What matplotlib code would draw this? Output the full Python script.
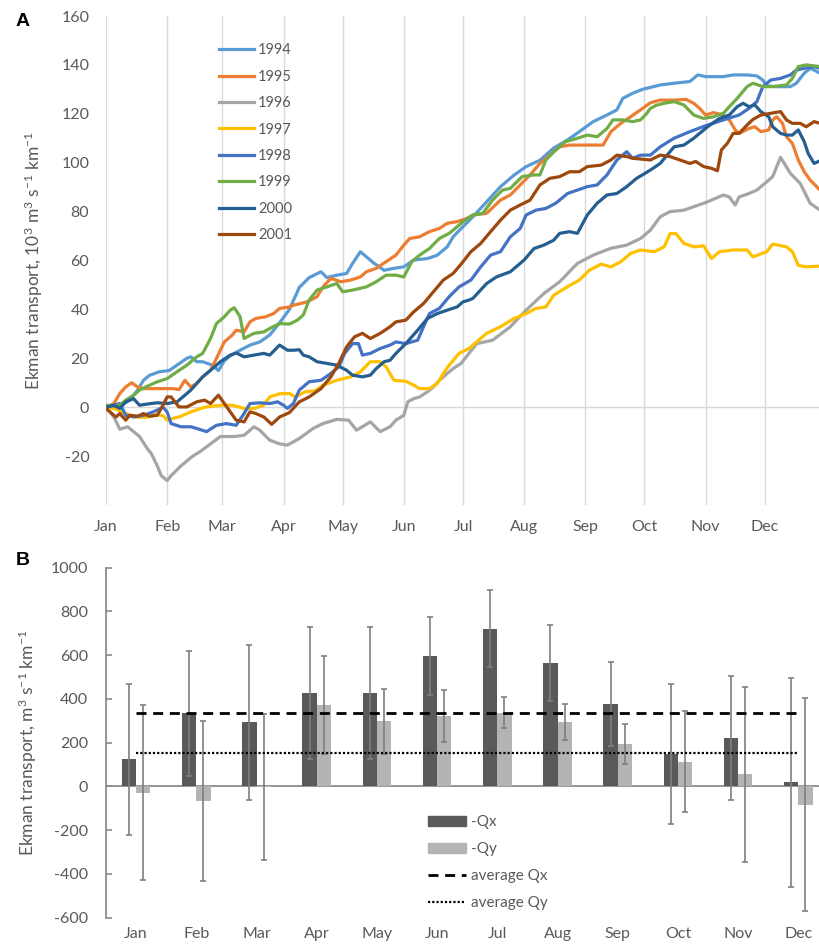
import matplotlib
matplotlib.use('Agg')
import matplotlib.pyplot as plt
from matplotlib.patches import Patch
from matplotlib.lines import Line2D
import numpy as np

plt.rcParams['font.family'] = ['Lato', 'DejaVu Sans']
plt.rcParams['mathtext.fontset'] = 'custom'
plt.rcParams['mathtext.rm'] = 'Lato'
plt.rcParams['mathtext.default'] = 'regular'
plt.rcParams['axes.unicode_minus'] = False

GREY_TXT = '#595959'

# ---- panel A: cumulative Ekman transport (day of year, 10^3 m3 s-1 km-1)
months = ['Jan', 'Feb', 'Mar', 'Apr', 'May', 'Jun', 'Jul', 'Aug', 'Sep', 'Oct', 'Nov', 'Dec']
month_start = [0, 31, 59, 90, 120, 151, 181, 212, 243, 273, 304, 334]

d1994 = [0, 4, 7, 12, 16, 19, 22, 27, 32, 36, 41, 43, 46, 49, 54, 57, 60, 63, 68, 73, 78, 83, 88, 93, 98, 103,
         109, 112, 117, 122, 125, 129, 132, 136, 141, 146, 151, 156, 163, 168, 173, 176, 180, 186, 193, 200, 207,
         213, 220, 227, 234, 240, 247, 254, 259, 262, 267, 272, 276, 281, 288, 296, 300, 304, 313, 318, 325, 330,
         333, 335, 340, 347, 350, 354, 357, 359, 362]
v1994 = [0, 0, 0.4, 2.9, 7, 11, 13, 14.5, 15, 17.2, 20, 20.6, 18.6, 18.6, 17.2, 15, 19, 21, 23.3, 25.4, 26.7, 29.5,
         34.5, 40, 49, 53, 55.4, 53, 54, 54.7, 58.8, 63.6, 61.5, 58.8, 56, 56.8, 57.4, 60.2, 60.8, 62.2, 65.6, 69.7,
         73, 77.9, 84, 90.2, 95, 98.4, 101, 106, 109.3, 112.7, 116.8, 119.5, 121.6, 126.3, 128.4, 130, 130.8, 131.8,
         132.5, 133.2, 135.9, 135.2, 135.2, 135.9, 135.9, 135.5, 133.8, 131.4, 131.1, 131.1, 132.5, 136.6, 138.6,
         137.9, 136.6]

d1995 = [0, 4, 7, 10, 13, 16, 19, 24, 29, 34, 37, 40, 43, 46, 49, 53, 56, 60, 64, 66, 70, 73, 76, 81, 85, 88, 93,
         95, 102, 107, 110, 114, 119, 124, 129, 132, 137, 142, 147, 151, 154, 159, 164, 169, 173, 178, 183, 186, 193,
         200, 205, 210, 215, 220, 225, 230, 235, 242, 247, 252, 256, 261, 266, 271, 276, 281, 288, 294, 298, 301,
         304, 308, 313, 316, 319, 321, 326, 329, 332, 336, 338, 340, 343, 345, 348, 351, 354, 357, 362]
v1995 = [0, 1.5, 5.6, 8.3, 10, 8.3, 7.6, 7.6, 7.6, 7.6, 7.2, 11, 8.3, 9.7, 12.4, 15.1, 20, 26.7, 29.5, 31.5, 30.8,
         34.9, 36.3, 37, 38.3, 40.4, 41, 41.7, 43.1, 45.2, 49.2, 52.7, 51.3, 52, 53.3, 55.4, 56.8, 59.5, 62.2, 66.3,
         69, 69.7, 71.8, 73.1, 75.2, 75.9, 77.2, 78.6, 79.3, 84.7, 86.8, 90.9, 95, 99.7, 103.1, 106.5, 107.2, 107.2,
         107.2, 107.2, 112.7, 116.1, 118.8, 121.6, 124.5, 125.6, 125.6, 125.9, 124.3, 122.2, 119.5, 120.5, 119.5,
         117.5, 113.4, 112, 114, 114.7, 112.7, 113.4, 117.5, 118.8, 116.1, 110.6, 107.9, 101.1, 96.3, 92.9, 88.8]

d1996 = [0, 4, 7, 11, 14, 17, 21, 23, 26, 28, 31, 33, 38, 41, 44, 48, 53, 58, 65, 70, 75, 78, 83, 88, 92, 98, 105,
         110, 117, 123, 127, 130, 134, 139, 144, 147, 151, 153, 156, 159, 163, 166, 169, 173, 176, 180, 184, 188,
         196, 205, 213, 222, 230, 239, 247, 256, 264, 271, 276, 281, 286, 293, 298, 305, 313, 316, 319, 321, 326,
         330, 335, 338, 342, 347, 352, 357, 362]
v1996 = [0, -4, -9, -8, -10, -12, -17, -19, -24, -28, -30, -28, -24, -22, -20, -18, -15, -12, -12, -11.5, -8, -9.4,
         -13.5, -15, -15.5, -12.8, -8.7, -6.7, -5, -5.3, -9.4, -8, -6, -10, -8, -5.3, -3.3, 2.2, 3.5, 4.2, 6.3, 8.3,
         11, 13.8, 15.8, 17.9, 22, 26, 27.4, 32.9, 39.7, 46.5, 51.3, 58.8, 62.2, 65, 66.3, 69, 72.4, 77.9, 80, 80.6,
         82, 84, 86.8, 86, 82.7, 86, 87.4, 88.8, 92.2, 94.3, 102.2, 95.6, 91.5, 83.4, 80.6]

d1997 = [0, 4, 10, 15, 20, 26, 29, 31, 34, 38, 43, 50, 58, 64, 70, 75, 80, 83, 88, 93, 96, 101, 106, 110, 117, 124,
         129, 134, 139, 142, 146, 152, 156, 159, 164, 168, 171, 174, 179, 184, 186, 193, 200, 207, 213, 218, 223,
         227, 234, 240, 245, 251, 256, 261, 266, 271, 278, 283, 286, 289, 293, 298, 303, 307, 311, 318, 325, 328,
         335, 338, 345, 348, 351, 355, 362]
v1997 = [0, -0.5, -2.6, -4, -4.2, -3, -3.5, -5.3, -4.6, -3.7, -1.9, 0, 0.8, 0.8, -0.5, -0.5, 0.8, 4.2, 5.5, 5.6,
         4.2, 6.3, 6.7, 9, 11, 12.4, 14.5, 18.6, 18.6, 16.5, 11, 10.6, 9, 7.6, 7.6, 9.7, 13.8, 17.2, 22, 24, 25.4,
         30.2, 32.9, 36.3, 38.3, 40.4, 41, 45.8, 49.3, 52, 56, 58.5, 57.4, 59.5, 62.9, 64.3, 63.6, 65.6, 71, 71, 67,
         65.6, 66, 60.8, 63.6, 64.3, 64.3, 61.5, 63.6, 66.7, 65.6, 63.6, 58, 57.4, 57.7]

d1998 = [0, 4, 7, 10, 14, 19, 24, 29, 31, 33, 38, 43, 46, 51, 56, 61, 66, 70, 73, 78, 83, 87, 90, 92, 95, 98, 103,
         109, 114, 118, 121, 125, 128, 130, 134, 139, 144, 147, 152, 158, 161, 164, 169, 174, 179, 185, 190, 195,
         200, 205, 210, 213, 218, 223, 228, 234, 239, 244, 249, 254, 259, 264, 267, 271, 276, 281, 288, 296, 305,
         313, 321, 326, 330, 333, 337, 342, 347, 350, 354, 359, 362]
v1998 = [0, 0.8, 1.5, -3.3, -4, -3.3, -1.9, 0, -2, -6.7, -8, -8, -8.7, -10, -7.4, -6.7, -7.4, -2.6, 1.5, 1.8, 1.5,
         2.2, 0.8, -0.5, 1.5, 7, 10.4, 11, 13.8, 16.5, 22, 26, 26, 21.3, 22, 24, 25.4, 26.7, 26, 27.4, 32.9, 38.3,
         40.4, 45.2, 49.2, 52, 57.4, 62.2, 63.6, 69.7, 73.1, 78.6, 80.6, 81.3, 83.4, 87.4, 88.8, 90.2, 90.9, 95,
         101.1, 104.5, 101.8, 103.1, 103.1, 106.5, 110, 112.7, 115.4, 117.5, 119.5, 122.2, 125, 131.1, 133.8, 134.5,
         135.9, 137.9, 138.6, 139.3, 138.6]

d1999 = [0, 4, 7, 10, 14, 17, 21, 26, 31, 36, 41, 46, 49, 53, 56, 60, 63, 65, 68, 70, 75, 80, 83, 88, 93, 97, 100,
         103, 107, 112, 117, 120, 125, 132, 137, 142, 147, 151, 155, 159, 164, 169, 174, 178, 182, 186, 191, 196,
         201, 205, 211, 217, 220, 223, 228, 233, 239, 244, 249, 254, 257, 262, 267, 271, 274, 276, 279, 283, 288,
         293, 298, 303, 308, 313, 316, 320, 325, 328, 333, 338, 345, 348, 351, 355, 362]
v1999 = [0.8, 0.4, 0.8, 2.9, 4.9, 7, 8.6, 10.4, 11.7, 14.5, 17.2, 20.6, 22, 28.1, 34.2, 37, 39.7, 40.7, 37, 28.1,
         30.2, 30.8, 32.2, 34.2, 34, 35.6, 37.7, 43.8, 47.9, 49.2, 50.6, 47.2, 47.9, 49.2, 51.3, 54, 54, 53.3, 59.5,
         62.2, 64.9, 69, 71.1, 73.8, 76.5, 78.6, 79.3, 84.7, 88.8, 89.5, 94.3, 95, 95, 101.1, 105.2, 108.6, 110,
         111.3, 110.6, 114, 117.5, 117.5, 116.8, 117.5, 120, 122.2, 123.5, 124.3, 125, 123.6, 119.5, 118.1, 118.8,
         120.2, 122.9, 126.3, 131.1, 132.5, 131.1, 131.1, 131.8, 134.5, 139.3, 140, 139.3]

d2000 = [0, 4, 7, 10, 14, 17, 21, 26, 31, 36, 39, 43, 46, 49, 53, 58, 63, 66, 70, 75, 80, 83, 88, 92, 95, 98, 100,
         103, 107, 112, 117, 122, 125, 130, 134, 137, 141, 144, 147, 152, 158, 163, 168, 173, 178, 181, 184, 186,
         193, 198, 205, 212, 217, 222, 227, 230, 235, 239, 244, 249, 254, 259, 264, 269, 273, 276, 281, 288, 293,
         298, 305, 311, 316, 320, 323, 326, 329, 332, 336, 338, 342, 345, 348, 351, 354, 356, 359, 362]
v2000 = [0, 0.8, -0.5, 2.2, 3.5, 0.8, 1.3, 1.8, 1.5, 2.2, 4.2, 7, 9.7, 12.4, 15.1, 18.6, 21.3, 22.2, 20.6, 21.3,
         22, 21.3, 25.4, 23.3, 23.3, 23.5, 21.3, 20.6, 18.6, 17.9, 17.2, 15.1, 13.1, 12.4, 13.1, 15.8, 18.6, 19.2,
         22, 26, 31.5, 36.3, 38.3, 39.7, 41, 43.1, 43.8, 44.5, 50.6, 53.3, 55.4, 60.2, 64.9, 66.3, 68.3, 71.1, 71.8,
         71.1, 78.6, 83.4, 86.8, 87.4, 90.2, 93.6, 95.5, 97, 99.7, 106.5, 107.2, 110, 114.7, 118.1, 119.5, 122.9,
         124.3, 122.9, 123.6, 120.9, 118.8, 114.7, 112, 111.3, 111.3, 113.4, 108.6, 103.8, 99.7, 100.8]

d2001 = [0, 2, 5, 7, 10, 12, 16, 19, 22, 26, 28, 31, 33, 37, 41, 46, 50, 53, 57, 60, 63, 66, 70, 73, 76, 80, 84, 88,
         93, 98, 103, 109, 114, 118, 122, 126, 130, 134, 139, 144, 147, 152, 156, 161, 166, 171, 176, 180, 185, 190,
         195, 200, 205, 210, 215, 220, 225, 230, 235, 240, 244, 251, 256, 259, 264, 267, 271, 276, 281, 286, 291,
         296, 299, 303, 307, 310, 312, 315, 318, 321, 325, 328, 332, 337, 342, 345, 348, 352, 355, 359, 362]
v2001 = [-0.5, -1.9, -4, -2.6, -5.3, -3.3, -3.7, -2.6, -3.7, -3.3, -0.5, 4.2, 4.2, 0.1, 0.1, 2.2, 2.9, 1.5, 4.9,
         1.5, -1.9, -5.3, -6, -1.9, -2.6, -4, -7, -4, -2.2, 2.2, 4.2, 7.6, 12.4, 17.9, 24.7, 28.8, 30.2, 28.1, 30.2,
         32.9, 34.9, 35.6, 39, 42.4, 47.2, 52, 54.7, 58.5, 63.6, 67, 71.8, 76.5, 80.6, 82.7, 84.7, 90.9, 93.6, 94.3,
         96.3, 96.3, 98.4, 99, 101.1, 103.1, 102.5, 101.8, 101.5, 101.1, 103.1, 102.5, 101.1, 99.7, 100.5, 98.4,
         97.7, 96.7, 105.2, 107.9, 112, 112, 115.4, 117.7, 119.5, 120.2, 120.9, 117.5, 116.1, 116.1, 114.7, 116.8,
         116.1]

years = ['1994', '1995', '1996', '1997', '1998', '1999', '2000', '2001']
year_days = [d1994, d1995, d1996, d1997, d1998, d1999, d2000, d2001]
year_vals = [v1994, v1995, v1996, v1997, v1998, v1999, v2000, v2001]
year_colors = ['#5B9BD5', '#ED7D31', '#A5A5A5', '#FFC000', '#4472C4', '#70AD47', '#255E91', '#9E480E']

# ---- panel B: monthly means with std error bars (m3 s-1 km-1)
qx = [125, 334, 293, 428, 428, 596, 720, 563, 376, 148, 222, 20]
qx_err = [345, 284, 353, 302, 302, 178, 176, 173, 192, 320, 285, 478]
qy = [-29, -66, -4, 372, 297, 323, 338, 294, 194, 114, 55, -84]
qy_err = [400, 367, 333, 224, 148, 120, 72, 81, 92, 230, 399, 487]
avg_qx = 334
avg_qy = 151

fig = plt.figure(figsize=(8.2, 9.46), dpi=100)

# ================= A
axA = fig.add_axes([106 / 820, 441 / 946, 714 / 820, 489 / 946])
for name, d, v, c in zip(years, year_days, year_vals, year_colors):
    axA.plot(d, v, color=c, lw=2.3, label=name, solid_joinstyle='round')
axA.set_xlim(0, 362)
axA.set_ylim(-40, 160)
axA.set_yticks(range(-20, 161, 20))
axA.set_xticks(month_start)
axA.set_xticklabels(months)
axA.grid(axis='x', color='#d9d9d9', lw=1)
axA.axhline(0, color='#d9d9d9', lw=1, zorder=0)
for s in axA.spines.values():
    s.set_visible(False)
axA.tick_params(axis='both', length=0, labelsize=11.5, colors=GREY_TXT)
axA.tick_params(axis='y', pad=12)
axA.tick_params(axis='x', pad=11)
axA.set_ylabel('Ekman transport, 10$^{3}$ m$^{3}$ s$^{-1}$ km$^{-1}$', fontsize=12.5, color=GREY_TXT, labelpad=12)
legA = axA.legend(loc='upper left', bbox_to_anchor=(0.158, 0.944), frameon=False, fontsize=10.5,
                  handlelength=2.4, handletextpad=0.3, labelspacing=0.85, borderpad=0, borderaxespad=0)
for t in legA.get_texts():
    t.set_color(GREY_TXT)

# ================= B
axB = fig.add_axes([106 / 820, 28.3 / 946, 714 / 820, 350 / 946])
x = np.arange(len(months))
w = 0.238
axB.bar(x - w / 2, qx, w, color='#595959', zorder=2)
axB.bar(x + w / 2, qy, w, color='#b4b4b4', zorder=2)
axB.errorbar(x - w / 2, qx, yerr=qx_err, fmt='none', ecolor='#7f7f7f', elinewidth=1.2, capsize=2, capthick=1.2,
             zorder=3)
axB.errorbar(x + w / 2, qy, yerr=qy_err, fmt='none', ecolor='#7f7f7f', elinewidth=1.2, capsize=2, capthick=1.2,
             zorder=3)
axB.plot([x[0], x[-1]], [avg_qx, avg_qx], color='black', lw=2, dashes=(3.6, 2.4), zorder=4)
axB.plot([x[0], x[-1]], [avg_qy, avg_qy], color='black', lw=1.6, dashes=(1, 0.9), zorder=4)
axB.axhline(0, color='#8c8c8c', lw=1.3, zorder=1)
axB.set_xlim(-0.5, 11.36)
axB.set_ylim(-600, 1000)
axB.set_yticks(range(-600, 1001, 200))
axB.set_xticks(x)
axB.set_xticklabels(months)
for k in ['top', 'right', 'bottom']:
    axB.spines[k].set_visible(False)
axB.spines['left'].set_color('#8c8c8c')
axB.spines['left'].set_linewidth(1.3)
axB.tick_params(axis='y', direction='in', length=4, width=1.2, color='#8c8c8c', labelsize=11.5,
                labelcolor=GREY_TXT, pad=13)
axB.tick_params(axis='x', length=0, labelsize=11.5, labelcolor=GREY_TXT, pad=7)
axB.set_ylabel('Ekman transport, m$^{3}$ s$^{-1}$ km$^{-1}$', fontsize=12.5, color=GREY_TXT, labelpad=8)

handles = [Patch(color='#595959'), Patch(color='#b4b4b4'),
           Line2D([], [], color='black', lw=2, dashes=(3.6, 2.4)),
           Line2D([], [], color='black', lw=1.6, dashes=(1, 0.9))]
legB = axB.legend(handles, ['-Qx', '-Qy', 'average Qx', 'average Qy'], loc='upper left',
                  bbox_to_anchor=(0.451, 0.293), frameon=False, fontsize=11, handlelength=2.5,
                  handleheight=0.6, handletextpad=0.3, labelspacing=0.85, borderpad=0, borderaxespad=0)
for t in legB.get_texts():
    t.set_color(GREY_TXT)

fig.text(16 / 820, 1 - 22 / 946, 'A', fontsize=14, fontweight='bold', va='center', family='Liberation Sans')
fig.text(16 / 820, 1 - 560 / 946, 'B', fontsize=14, fontweight='bold', va='center', family='Liberation Sans')

fig.savefig('out.png', dpi=100)
